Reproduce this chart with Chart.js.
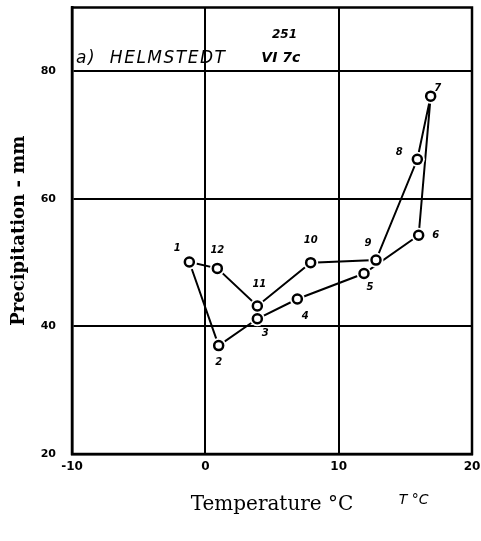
<!DOCTYPE html>
<html>
<head>
<meta charset="utf-8">
<script src="https://cdn.jsdelivr.net/npm/chart.js@4/dist/chart.umd.min.js"></script>
<style>
  html, body { margin: 0; padding: 0; background: #fff; }
  #wrap { width: 481px; height: 541px; }
</style>
</head>
<body>
<div id="wrap"><canvas id="c" width="481" height="541"></canvas></div>
<script>
// ---- data ----
const months = ['1','2','3','4','5','6','7','8','9','10','11','12'];
const temperature = [-1.2, 1.0, 3.9, 6.9, 11.9, 16.0, 16.9, 15.9, 12.8, 7.9, 3.9, 0.9];
const precipitation = [50.1, 37.0, 41.2, 44.3, 48.3, 54.3, 76.1, 66.2, 50.4, 50.0, 43.2, 49.1];
const xTicks = [-10, 0, 10, 20];
const yTicks = [20, 40, 60, 80];
const stationTitle = 'a)  HELMSTEDT';
const stationCode = 'VI 7c';
const pageNumber = '251';
const unitNote = 'T °C';

// points and closed loop (month 12 back to month 1)
const points = months.map((m, i) => ({ x: temperature[i], y: precipitation[i] }));
const loop = points.concat([points[0]]);

// label offsets (style only): px relative to each point
const labelOffsets = [[-12,-14],[0,17],[8,15],[8,17],[6,14],[17,0],[7,-8],[-18,-7],[-8,-17],[0,-22],[2,-22],[0,-18]];

const labelPlugin = {
  id: 'monthLabels',
  afterDatasetsDraw(chart) {
    const meta = chart.getDatasetMeta(0);
    const ctx = chart.ctx;
    ctx.save();
    ctx.fillStyle = '#000';
    ctx.font = 'italic bold 10px "DejaVu Sans"';
    ctx.textAlign = 'center';
    ctx.textBaseline = 'middle';
    meta.data.forEach((el, i) => {
      const o = labelOffsets[i];
      ctx.fillText(months[i], el.x + o[0], el.y + o[1]);
    });
    ctx.restore();
  }
};

const framePlugin = {
  id: 'frameAndNotes',
  afterDraw(chart) {
    const { ctx, chartArea: a, scales } = chart;
    ctx.save();
    ctx.strokeStyle = '#000';
    ctx.lineWidth = 2.5;
    ctx.strokeRect(a.left, a.top, a.right - a.left, a.bottom - a.top);
    ctx.fillStyle = '#000';
    ctx.textBaseline = 'middle';
    ctx.textAlign = 'left';
    const xs = scales.x, ys = scales.y;
    ctx.font = 'italic 17px "DejaVu Sans"';
    ctx.letterSpacing = '1.5px';
    ctx.fillText(stationTitle, xs.getPixelForValue(-9.7), ys.getPixelForValue(82));
    ctx.letterSpacing = '0px';
    ctx.font = 'italic bold 14px "DejaVu Sans"';
    ctx.fillText(stationCode, xs.getPixelForValue(4.2), ys.getPixelForValue(82));
    ctx.font = 'italic bold 12px "DejaVu Sans"';
    ctx.fillText(pageNumber, xs.getPixelForValue(5.0), ys.getPixelForValue(85.7));
    ctx.font = 'italic 14px "DejaVu Sans"';
    ctx.fillText(unitNote, xs.getPixelForValue(14.5), a.bottom + 46);
    ctx.restore();
  }
};

new Chart(document.getElementById('c'), {
  type: 'scatter',
  data: {
    datasets: [
      {
        label: 'months',
        data: points,
        showLine: false,
        pointRadius: 4.5,
        pointHoverRadius: 4.5,
        pointBackgroundColor: '#fff',
        pointBorderColor: '#000',
        pointBorderWidth: 2.5
      },
      {
        label: 'loop',
        data: loop,
        showLine: true,
        borderColor: '#000',
        borderWidth: 2,
        pointRadius: 7.5,
        pointHoverRadius: 7.5,
        pointBackgroundColor: '#fff',
        pointBorderColor: '#fff',
        pointBorderWidth: 0
      }
    ]
  },
  plugins: [labelPlugin, framePlugin],
  options: {
    responsive: false,
    animation: false,
    events: [],
    layout: { padding: { top: 7, right: 9, left: 0, bottom: 0 } },
    plugins: { legend: { display: false }, tooltip: { enabled: false }, title: { display: false } },
    scales: {
      x: {
        type: 'linear',
        min: -10, max: 20,
        afterBuildTicks: s => { s.ticks = xTicks.map(v => ({ value: v })); },
        afterFit: s => { s.height = 87; s.paddingLeft = 0; s.paddingRight = 0; },
        grid: { color: '#000', lineWidth: 2, drawTicks: false },
        border: { color: '#000', width: 2.5 },
        ticks: { color: '#000', font: { family: 'DejaVu Sans', size: 12, weight: 'bold' }, padding: 6, maxRotation: 0 },
        title: { display: true, text: 'Temperature °C', color: '#000', font: { family: 'DejaVu Serif', size: 20 }, padding: { top: 0, bottom: 24 } }
      },
      y: {
        type: 'linear',
        min: 20, max: 90,
        afterBuildTicks: s => { s.ticks = yTicks.map(v => ({ value: v })); },
        afterFit: s => { s.width = 72; s.paddingTop = 0; s.paddingBottom = 0; },
        grid: { color: '#000', lineWidth: 2, drawTicks: false },
        border: { color: '#000', width: 2.5 },
        ticks: { color: '#000', font: { family: 'DejaVu Sans', size: 11, weight: 'bold' }, padding: 16 },
        title: { display: true, text: 'Precipitation - mm', color: '#000', font: { family: 'DejaVu Serif', size: 18, weight: 'bold' }, padding: { top: 9, bottom: 0 } }
      }
    }
  }
});
</script>
</body>
</html>
